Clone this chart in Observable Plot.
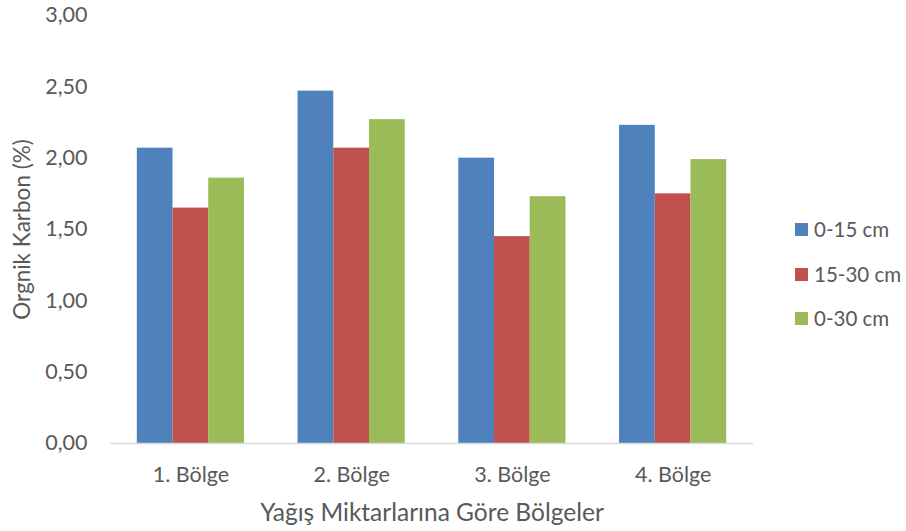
<!DOCTYPE html>
<html>
<head>
<meta charset="utf-8">
<script src="https://cdn.jsdelivr.net/npm/d3@7"></script>
<script src="https://cdn.jsdelivr.net/npm/@observablehq/plot@0.6"></script>
<style>
  html, body { margin: 0; padding: 0; background: #fff; }
  #wrap { position: relative; width: 906px; height: 531px; font-family: Lato, "Open Sans", sans-serif; }
  .leg { position: absolute; left: 795px; display: flex; align-items: center; font-size: 20.5px; color: #595959; white-space: nowrap; }
  .leg span.sw { display: inline-block; width: 13px; height: 13px; margin-right: 6px; }
</style>
</head>
<body>
<div id="wrap"></div>
<script>
const regions = ["1. Bölge", "2. Bölge", "3. Bölge", "4. Bölge"];
const series = ["0-15 cm", "15-30 cm", "0-30 cm"];
const v0_15 = [2.07, 2.47, 2.00, 2.23];
const v15_30 = [1.65, 2.07, 1.45, 1.75];
const v0_30 = [1.86, 2.27, 1.73, 1.99];
const yTicks = [0, 0.5, 1, 1.5, 2, 2.5, 3];
const colors = ["#4F81BD", "#C0504D", "#9BBB59"];

const seriesValues = [v0_15, v15_30, v0_30];
const data = regions.flatMap((r, i) => series.map((s, j) => ({region: r, series: s, value: seriesValues[j][i]})));

const fmt = d => d.toFixed(2).replace(".", ",");

const chart = Plot.plot({
  width: 906,
  height: 531,
  marginLeft: 110,
  marginRight: 153,
  marginTop: 15,
  marginBottom: 88,
  style: {fontFamily: "Lato, 'Open Sans', sans-serif", color: "#595959", background: "#fff"},
  fx: {domain: regions, padding: 0, round: false},
  x: {domain: series, paddingInner: 0, paddingOuter: 0.75, round: false, axis: null},
  y: {domain: [0, 3]},
  color: {domain: series, range: colors},
  marks: [
    Plot.axisY({ticks: yTicks, tickFormat: fmt, tickSize: 0, tickPadding: 23, fontSize: 21.5, label: null}),
    Plot.axisY({ticks: [], label: "Orgnik Karbon (%)", labelArrow: "none", labelAnchor: "center", labelOffset: 96, fontSize: 22.5}),
    Plot.axisFx({anchor: "bottom", tickSize: 0, tickPadding: 23, fontSize: 21.5, label: null}),
    Plot.axisFx({anchor: "bottom", ticks: [], label: "Yağış Miktarlarına Göre Bölgeler", labelArrow: "none", labelAnchor: "center", labelOffset: 77, fontSize: 24.5}),
    Plot.barY(data, {fx: "region", x: "series", y: "value", fill: "series"}),
    Plot.ruleY([0], {stroke: "#d9d9d9", strokeWidth: 1.5})
  ]
});

const wrap = document.getElementById("wrap");
wrap.appendChild(chart);

const legendTops = [229, 274, 318];
series.forEach((s, j) => {
  const d = document.createElement("div");
  d.className = "leg";
  d.style.top = (legendTops[j] - 12) + "px";
  d.style.height = "24px";
  const sw = document.createElement("span");
  sw.className = "sw";
  sw.style.background = colors[j];
  d.appendChild(sw);
  d.appendChild(document.createTextNode(s));
  wrap.appendChild(d);
});
</script>
</body>
</html>
